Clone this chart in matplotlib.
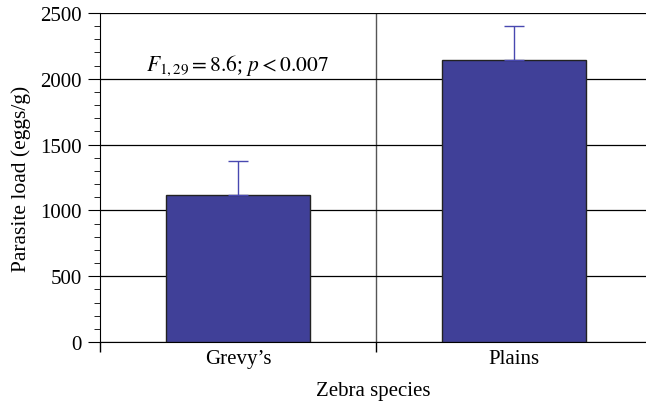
import matplotlib
matplotlib.use('Agg')
import matplotlib.pyplot as plt
from matplotlib.ticker import MultipleLocator, FixedLocator

plt.rcParams['font.family'] = 'Liberation Serif'
plt.rcParams['mathtext.fontset'] = 'stix'

species = ["Grevy\u2019s", "Plains"]
load = [1115, 2145]
err_up = [260, 260]

fig = plt.figure(figsize=(6.46, 4.06), dpi=100)
ax = fig.add_axes([0.1548, 0.155, 0.8452, 0.8105])

pos = [0.5, 1.5]
ax.bar(pos, load, width=0.52, color='#404098', edgecolor='#222222', linewidth=1.0, zorder=3)
ax.errorbar(pos, load, yerr=[[0, 0], err_up], fmt='none', ecolor='#4848b0',
            elinewidth=1.0, capsize=7, capthick=1.0, zorder=4)

ax.set_xlim(0, 546 / 276)
ax.set_ylim(0, 2500)

ax.yaxis.set_major_locator(MultipleLocator(500))
ax.yaxis.set_minor_locator(MultipleLocator(100))
ax.grid(axis='y', which='major', color='black', linewidth=0.9, zorder=1)
ax.axvline(1, color='#555555', linewidth=1.0, zorder=1)

ax.xaxis.set_major_locator(FixedLocator(pos))
ax.set_xticklabels(species)
ax.xaxis.set_minor_locator(FixedLocator([0, 1]))
ax.tick_params(axis='x', which='major', length=0, labelsize=15, pad=5)
ax.tick_params(axis='x', which='minor', length=7.5, width=1, direction='out')
ax.tick_params(axis='y', which='major', length=9, labelsize=15, direction='out', pad=4)
ax.tick_params(axis='y', which='minor', length=4, direction='out')

for s in ['top', 'right']:
    ax.spines[s].set_visible(False)

ax.set_xlabel('Zebra species', fontsize=15, labelpad=9)
ax.set_ylabel('Parasite load (eggs/g)', fontsize=15.5, labelpad=7)

ax.text(0.165, 2070, r'$F_{1,29}=8.6$; $p<0.007$', fontsize=15.5)

fig.savefig('out.png', dpi=100)
